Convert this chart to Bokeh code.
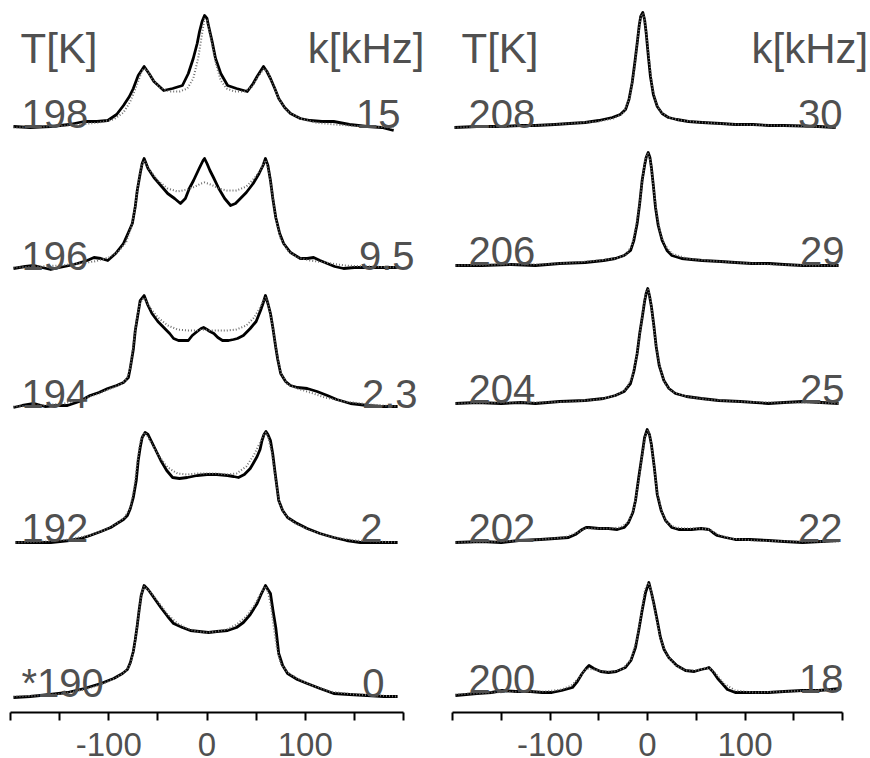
from bokeh.plotting import figure
from bokeh.models import Range1d, FixedTicker, Label, ColumnDataSource
from bokeh.layouts import row
from bokeh.embed import file_html
from bokeh.resources import INLINE

# ---------------- data ----------------
# intensities in arbitrary units (peak ~ 110), x in kHz
temps_left = ["198", "196", "194", "192", "*190"]
k_left = ["15", "9.5", "2.3", "2", "0"]
temps_right = ["208", "206", "204", "202", "200"]
k_right = ["30", "29", "25", "22", "18"]
tick_values = [-200, -150, -100, -50, 0, 50, 100, 150, 200]
tick_labels = ["", "", "-100", "", "0", "", "100", "", ""]

e198_x = [-197, -180, -159, -140, -125, -112, -101, -92, -85, -79, -75, -70, -64, -59, -54, -44, -35, -25, -19, -14,
          -10, -7.6, -5, -2.5, 0, 1.5, 5, 8.7, 14, 21, 30, 41, 47, 51, 57.5, 61, 64.6, 69, 73, 79, 85, 95, 105, 117,
          129, 145, 163, 178, 190]
e198_y = [2, 1, 2, 4, 7, 7, 8, 14, 23, 32, 40, 53, 62, 55, 47, 38, 40, 43, 55, 70,
          85, 97, 107, 113, 110, 103, 88, 70, 55, 43, 40, 37, 45, 52, 62, 57, 50, 40, 30, 21, 15, 10, 8, 7,
          7, 4, 2, 1, -2]
s198_x = [-197, -160, -130, -110, -95, -85, -78, -72, -66, -62, -56, -48, -38, -28, -20, -14, -9, -5, -2.5, 0, 4, 9,
          14, 20, 28, 38, 46, 52, 58, 62, 68, 74, 82, 95, 110, 130, 160, 190]
s198_y = [1, 2, 4, 6, 9, 16, 27, 42, 58, 60, 50, 41, 37, 37, 40, 50, 70, 95, 110, 108, 90, 65,
          48, 40, 37, 37, 42, 52, 60, 56, 42, 28, 17, 10, 6, 4, 2, 1]

e196_x = [-197, -185, -176, -168, -159, -150, -140, -132, -122, -115, -108, -101, -93, -85, -80, -76, -73, -71, -68,
          -66, -64, -60, -54, -47, -40, -33, -27, -22, -18, -13.7, -8, -4, -2.5, 0, 3, 6.6, 12, 18, 24, 29, 34, 40,
          47, 53, 57, 59.5, 62, 64.6, 67, 70, 74, 78, 85, 95, 102, 108.5, 115, 122.5, 130, 139, 150, 163, 178, 194]
e196_y = [0, 2, 3, 1, -1, 1, 3, 5, 8, 11, 10, 8, 15, 25, 36, 45, 62, 78, 95,
          105, 110, 100, 91, 83, 75, 70, 65, 70, 80, 88, 100, 108, 110, 105, 98, 91, 80, 70, 63, 65, 70, 76,
          85, 95, 103, 110, 103, 88, 70, 51, 35, 25, 16, 10, 10, 11, 8, 5, 2, 0, 1, 1, 1, 1]
s196_x = [-197, -170, -150, -130, -115, -100, -90, -82, -77, -73, -70, -67, -64, -58, -50, -40, -30, -20, -12, -6,
          -2.5, 1, 6, 12, 20, 30, 40, 48, 54, 58, 60, 63, 66, 70, 75, 82, 92, 105, 120, 140, 165, 194]
s196_y = [1, 2, 3, 5, 7, 11, 17, 27, 42, 62, 85, 102, 108, 98, 88, 80, 77, 79, 82, 85,
          86, 85, 83, 80, 78, 78, 82, 90, 98, 106, 108, 96, 78, 50, 30, 18, 11, 8, 6, 3, 2, 1]

e194_x = [-197, -188, -176, -165, -152, -142, -130, -119, -110, -101, -92, -85, -80, -78, -75, -73, -70, -68, -64,
          -60, -56, -50, -44, -38, -34, -29, -24, -19, -15, -10, -6, -3.5, 0, 3, 7, 11, 15.8, 22, 27, 31, 37, 44,
          50, 54.5, 57, 59.5, 62, 64.6, 67, 70, 72, 75, 80, 85, 92, 102, 112, 122.5, 132, 146, 155, 163, 178, 194]
e194_y = [0, 2, 4, 1, 2, 2, 6, 12, 15, 19, 22, 25, 30, 40, 58, 77, 95, 107, 112,
          102, 94, 86, 80, 74, 69, 67, 67, 67, 72, 76, 79, 80, 78, 76, 74, 70, 67, 67, 68, 69, 72, 79,
          86, 97, 104, 112, 104, 94, 80, 60, 48, 34, 26, 22, 20, 19, 16, 12, 8, 4, 3, 2, 1, 1]
s194_x = [-197, -170, -145, -125, -110, -98, -88, -82, -78, -74, -71, -68, -64, -58, -50, -40, -30, -20, -10, -3,
          3, 10, 20, 30, 40, 48, 54, 58, 60, 63, 67, 71, 75, 82, 92, 105, 120, 140, 165, 194]
s194_y = [1, 2, 4, 9, 14, 19, 23, 28, 40, 70, 92, 105, 110, 100, 90, 82, 78, 77, 77, 78,
          77, 77, 77, 78, 82, 90, 100, 108, 110, 100, 80, 55, 35, 23, 19, 15, 10, 6, 3, 1]

e192_x = [-195, -180, -159, -140, -128, -119, -108, -98, -90, -85, -81, -78, -75, -72, -70, -68, -66, -63, -60, -57,
          -52, -47, -41, -35, -28, -20, -10, 0, 10, 21, 27, 32, 38, 44, 47, 51, 54, 56, 58, 60,
          62, 64.6, 67, 69, 71, 73, 77, 82, 90, 102, 115, 129, 142, 156, 175, 194]
e192_y = [0, 0, 0, 2, 4, 7, 11, 15, 20, 23, 27, 34, 45, 62, 82, 95, 105, 110, 108, 102,
          92, 82, 72, 65, 64, 65, 67, 68, 68, 67, 66, 65, 68, 74, 79, 86, 93, 102, 108, 111,
          108, 102, 88, 72, 57, 42, 32, 25, 20, 14, 9, 5, 2, 0, 0, 0]
s192_x = [-195, -165, -140, -120, -105, -92, -84, -78, -74, -71, -68, -65, -63, -58, -50, -40, -30, -20, -10, 0,
          10, 20, 30, 40, 48, 54, 58, 60, 62, 66, 70, 74, 80, 90, 105, 125, 150, 175, 194]
s192_y = [0, 1, 3, 7, 12, 19, 25, 35, 55, 80, 100, 108, 110, 102, 88, 75, 69, 68, 69, 69,
          69, 68, 69, 76, 88, 100, 108, 110, 106, 90, 62, 38, 27, 19, 12, 6, 2, 1, 0]

e190_x = [-197, -180, -160, -142, -125, -108, -95, -86, -81, -78, -75, -73, -71, -69, -67, -64, -60, -57, -52, -47,
          -40, -34, -25, -17, -8, 1.5, 10, 21, 30, 37, 44, 51, 55, 57.5, 59.5, 62, 64.6, 67, 70, 73,
          77, 82, 92, 102, 115, 129, 145, 163, 180, 194]
e190_y = [0, 1, 3, 5, 9, 14, 19, 24, 28, 35, 46, 58, 72, 88, 102, 112, 108, 104, 97, 90,
          81, 74, 70, 67, 66, 65, 66, 67, 70, 75, 83, 94, 103, 108, 112, 108, 104, 88, 70, 44,
          32, 24, 18, 14, 9, 4, 3, 2, 1, 1]
s190_x = [-197, -170, -145, -125, -108, -92, -83, -78, -74, -71, -68, -66, -64, -58, -50, -40, -30, -20, -10, 0,
          10, 20, 30, 40, 48, 53, 57, 59.5, 62, 65, 68, 71, 75, 82, 92, 105, 125, 150, 175, 194]
s190_y = [1, 2, 4, 8, 13, 20, 26, 33, 50, 72, 95, 106, 111, 106, 96, 83, 74, 69, 66, 65,
          66, 68, 73, 81, 92, 101, 108, 111, 106, 92, 70, 50, 34, 25, 19, 13, 6, 3, 2, 1]

e208_x = [-198, -175, -150, -130, -115, -95, -80, -64, -50, -36, -28, -22.5, -19, -15.7, -13, -10.5, -8.5, -7, -4.8,
          -3, -1.4, 1, 3, 6, 10, 15, 21.5, 30, 42, 56, 75, 90, 108, 125, 140, 159, 175, 193]
e208_y = [0, 1, 1, 2, 2, 3, 4, 5, 7, 10, 13, 18, 28, 45, 65, 85, 102, 111, 115,
          108, 95, 70, 51, 33, 21, 14, 10, 8, 6, 5, 4, 3, 3, 2, 2, 1.5, 1, 0]
s208_x = [-198, -150, -115, -80, -50, -35, -25, -18, -13, -10, -7, -5, -3, -1, 2, 5, 9, 14, 22, 35, 55, 90, 130, 170,
          193]
s208_y = [0, 1, 2, 4, 6, 9, 14, 30, 62, 90, 110, 114, 108, 92, 65, 40, 24, 15, 10, 7, 5, 3, 2, 1, 0]

e206_x = [-197, -170, -140, -115, -90, -64, -45, -33, -24, -17.4, -14, -10.6, -8, -5.5, -3, -1.4, 0.7, 2.5, 4, 6,
          8.2, 11, 15, 20, 25, 35, 45, 56, 75, 90, 107, 125, 140, 159, 178, 196]
e206_y = [0, 0, 1, 0, 2, 3, 5, 7, 10, 15, 25, 42, 62, 85, 100, 108, 113, 108, 98, 80,
          58, 40, 25, 15, 10, 7, 6, 5, 4, 3, 2, 2, 1, 0, 0, 0]
s206_x = [-197, -150, -110, -75, -50, -33, -22, -16, -12, -8, -5, -2.5, 0.5, 3, 6, 9, 13, 18, 25, 40, 60, 90, 130,
          170, 196]
s206_y = [0, 1, 1, 3, 5, 7, 11, 20, 38, 62, 88, 106, 112, 104, 80, 55, 33, 20, 12, 7, 5, 3, 1, 0, 0]

e204_x = [-197, -175, -150, -130, -115, -90, -64, -45, -33, -24, -17.4, -14, -10.6, -8, -4.8, -3, -1.4, 0.3, 2, 4,
          6.5, 8.9, 12, 16.8, 22, 28.7, 40, 55, 73, 95, 124, 140, 159, 178, 196]
e204_y = [0, 1, 0, 1, 0, 2, 3, 5, 8, 12, 20, 32, 50, 70, 90, 102, 110, 115, 108, 97,
          78, 57, 38, 23, 15, 10, 7, 5, 3, 2, 0, 1, 2, 1, 0]
s204_x = [-197, -150, -110, -75, -50, -33, -22, -16, -11, -7, -4, -1.5, 0.5, 3, 6, 9, 13, 18, 25, 40, 60, 90, 130,
          170, 196]
s204_y = [0, 1, 1, 2, 4, 8, 14, 26, 48, 75, 98, 112, 114, 104, 80, 56, 35, 20, 12, 7, 4, 2, 1, 1, 0]

e202_x = [-197, -170, -150, -132, -110, -95, -81, -74, -67, -63, -60, -50, -40, -31, -24, -19.5, -15, -12.3, -9, -5.5,
          -3, -0.3, 2, 4, 7, 10, 14, 18.5, 25, 32, 45, 55, 63, 67, 71.5, 80, 90, 105, 124, 140, 159, 178, 196]
e202_y = [0, 1, 0, 2, 3, 4, 5, 8, 13, 15, 15, 14, 14, 13, 15, 20, 30, 42, 65, 88,
          105, 113, 108, 98, 75, 48, 32, 22, 15, 13, 13, 14, 13, 10, 7, 5, 3, 3, 2, 1, 0, 1, 2]
s202_x = [-197, -150, -110, -85, -72, -64, -55, -40, -28, -20, -14, -9, -5, -2, 0.5, 3, 6, 10, 15, 20, 28, 40, 55,
          64, 72, 85, 110, 150, 196]
s202_y = [0, 1, 3, 5, 10, 14, 14, 14, 15, 20, 34, 62, 90, 108, 112, 104, 82, 50, 30, 20, 15, 14, 14,
          13, 8, 4, 2, 1, 1]

e200_x = [-197, -175, -160, -149, -135, -120, -108, -98, -88, -77, -72, -67, -63, -60, -55, -48, -40, -32, -22.6, -17,
          -12.3, -9, -5.5, -2, 1.4, 4, 6.5, 10, 13.3, 17, 21.8, 30, 39, 48, 55, 60, 63, 67, 72, 76.6,
          82, 90, 105, 124, 140, 159, 175, 188, 198]
e200_y = [0, 2, 3, 5, 4, 4, 3, 3, 5, 8, 14, 22, 27, 30, 27, 24, 23, 24, 28, 35,
          48, 65, 85, 103, 113, 103, 92, 75, 58, 46, 38, 30, 25, 24, 26, 27, 28, 24, 17, 12,
          6, 3, 3, 3, 4, 5, 5, 6, 7]
s200_x = [-197, -160, -130, -105, -88, -78, -70, -63, -55, -45, -35, -25, -17, -11, -6, -2.5, 1, 4, 8, 13,
          20, 30, 40, 50, 58, 64, 70, 78, 90, 110, 140, 170, 198]
s200_y = [1, 3, 4, 4, 6, 10, 18, 27, 26, 24, 24, 27, 36, 55, 85, 106, 113, 104, 82, 58,
          40, 29, 25, 25, 27, 27, 22, 12, 5, 3, 4, 5, 6]

exp_left = [(e198_x, e198_y), (e196_x, e196_y), (e194_x, e194_y), (e192_x, e192_y), (e190_x, e190_y)]
sim_left = [(s198_x, s198_y), (s196_x, s196_y), (s194_x, s194_y), (s192_x, s192_y), (s190_x, s190_y)]
exp_right = [(e208_x, e208_y), (e206_x, e206_y), (e204_x, e204_y), (e202_x, e202_y), (e200_x, e200_y)]
sim_right = [(s208_x, s208_y), (s206_x, s206_y), (s204_x, s204_y), (s202_x, s202_y), (s200_x, s200_y)]

# ---------------- layout / style ----------------
CANVAS_H = 758
FRAME_H = 712          # frame height (canvas minus axis panel)
PANEL_W = 435
FONT = "Liberation Sans"
TXT = "#505050"
TEXT_SHIFT = 15        # Label y is placed at the middle of the glyphs; shift from baseline


def make_panel(exp, sim, temps, ks, axis_px0, axis_px1, base_py, t_px, k_px, lab_py,
               head_t_px, head_k_px, head_k_align):
    sx = (axis_px1 - axis_px0) / 400.0
    x0 = -200 - axis_px0 / sx
    x1 = x0 + PANEL_W / sx

    def xd(px):
        return x0 + px / sx

    def yd(py):
        return FRAME_H - py

    p = figure(width=PANEL_W, height=CANVAS_H, output_backend="svg", toolbar_location=None,
               x_range=Range1d(x0, x1), y_range=Range1d(0, FRAME_H),
               min_border=0, min_border_left=0, min_border_right=0, min_border_top=0, min_border_bottom=0)
    p.outline_line_color = None
    p.grid.visible = False
    p.yaxis.visible = False
    p.background_fill_color = "white"
    p.border_fill_color = "white"

    ax = p.xaxis[0]
    ax.ticker = FixedTicker(ticks=tick_values, minor_ticks=[])
    ax.major_label_overrides = {v: l for v, l in zip(tick_values, tick_labels)}
    ax.bounds = (-200, 200)
    ax.axis_line_width = 2
    ax.axis_line_color = "black"
    ax.major_tick_line_width = 2
    ax.major_tick_line_color = "black"
    ax.major_tick_in = 0
    ax.major_tick_out = 8
    ax.minor_tick_out = 0
    ax.minor_tick_in = 0
    ax.major_label_standoff = 12
    ax.major_label_text_font = FONT
    ax.major_label_text_font_size = "33px"
    ax.major_label_text_color = TXT

    for i, ((ex, ey), (sxs, sys)) in enumerate(zip(exp, sim)):
        off = yd(base_py[i])
        src_e = ColumnDataSource(dict(x=ex, y=[off + v for v in ey]))
        src_s = ColumnDataSource(dict(x=sxs, y=[off + v for v in sys]))
        p.line("x", "y", source=src_e, line_color="black", line_width=2.8, line_join="round")
        p.line("x", "y", source=src_s, line_color="#6e6e6e", line_width=2, line_dash="1 2")

        p.add_layout(Label(x=xd(t_px), y=yd(lab_py[i] - TEXT_SHIFT), text=temps[i], text_font=FONT,
                           text_font_size="40px", text_color=TXT, text_baseline="alphabetic",
                           text_align="left"))
        p.add_layout(Label(x=xd(k_px[i]), y=yd(lab_py[i] - TEXT_SHIFT), text=ks[i], text_font=FONT,
                           text_font_size="40px", text_color=TXT, text_baseline="alphabetic",
                           text_align="right"))

    p.add_layout(Label(x=xd(head_t_px), y=yd(63 - TEXT_SHIFT), text="T[K]", text_font=FONT,
                       text_font_size="42px", text_color=TXT, text_baseline="alphabetic", text_align="left"))
    p.add_layout(Label(x=xd(head_k_px), y=yd(63 - TEXT_SHIFT), text="k[kHz]", text_font=FONT,
                       text_font_size="42px", text_color=TXT, text_baseline="alphabetic",
                       text_align=head_k_align))
    return p


p1 = make_panel(exp_left, sim_left, temps_left, k_left, 10, 403,
                [128, 268, 407, 542, 697], 21, [400, 414, 417, 382, 384],
                [128, 270, 408, 542, 697], 20, 424, "right")
p2 = make_panel(exp_right, sim_right, temps_right, k_right, 17, 407,
                [127, 265, 403, 542, 695], 33, [407, 409, 409, 407, 408],
                [128, 265, 403, 542, 693], 26, 316, "left")

layout = row(p1, p2)
open("out.html", "w").write(file_html(layout, INLINE))
